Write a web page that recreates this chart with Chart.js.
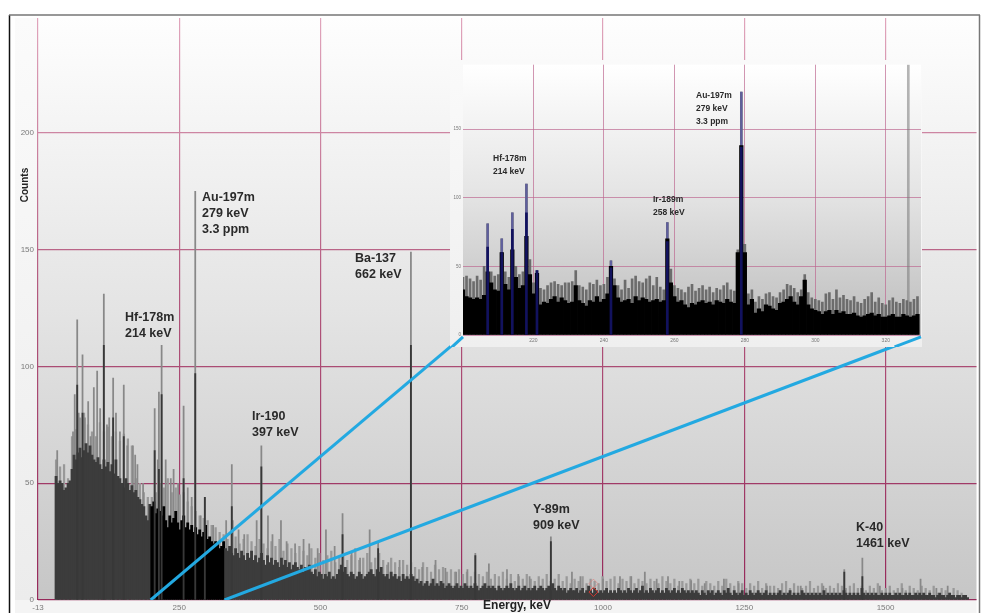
<!DOCTYPE html>
<html>
<head>
<meta charset="utf-8">
<script src="https://cdn.jsdelivr.net/npm/chart.js@4/dist/chart.umd.min.js"></script>
<style>
  html, body { margin: 0; padding: 0; background: #fff; }
  #wrap { position: relative; width: 982px; height: 613px; overflow: hidden; }
  canvas { position: absolute; filter: blur(0.65px); }
  #mainChart { left: 0; top: 0; }
  #zoomChart { left: 450px; top: 60px; }
</style>
</head>
<body>
<div id="wrap">
  <canvas id="mainChart" width="982" height="613"></canvas>
  <canvas id="zoomChart" width="472" height="287"></canvas>
</div>
<script>
// main spectrum, counts
const firstKeV = 32;
const bodyStep = 3.53;
const fringeStep = 7.06;

const bodyCounts = [
  53,50,51,50,47,48,50,51,56,62,60,63,65,61,64,67,63,66,62,60,
  59,61,58,56,60,57,59,55,58,54,60,53,52,50,48,52,50,47,49,46,
  47,44,43,41,40,36,34,41,40,42,37,39,38,36,40,34,31,36,33,35,
  38,33,30,34,36,31,33,30,32,29,31,28,30,27,29,32,26,27,25,24,
  25,24,22,23,25,22,21,23,20,19,22,20,18,21,19,17,20,18,21,17,
  19,16,18,20,17,15,19,16,18,15,17,16,14,18,15,17,14,16,13,15,
  16,14,13,15,12,14,13,15,12,11,13,10,12,11,9,11,10,12,9,10,
  9,11,13,15,12,14,11,10,12,11,9,10,12,11,9,10,11,12,13,11,
  10,13,12,14,11,10,11,9,12,10,11,9,10,8,11,9,10,9,11,10,
  8,9,7,8,6,7,8,6,7,9,6,7,6,8,7,5,6,7,6,5,
  6,7,5,6,5,7,6,5,6,5,7,6,4,5,6,7,5,6,5,6,
  5,4,6,5,4,5,6,5,7,5,4,5,6,4,5,6,4,5,4,5,
  6,4,5,6,5,4,5,6,4,7,5,4,6,5,4,5,3,4,5,4,
  4,5,3,4,5,3,4,6,4,3,5,4,3,4,3,4,5,3,4,3,
  4,3,5,4,3,4,3,5,4,3,4,5,3,4,6,3,4,3,5,4,
  3,4,5,3,4,3,5,4,3,4,5,3,4,3,5,4,3,4,3,4,
  3,4,3,2,4,3,2,4,3,4,2,3,4,3,2,4,3,5,3,2,
  4,3,2,3,4,2,3,2,4,3,2,3,4,3,2,3,4,2,3,2,
  3,2,3,4,2,3,2,3,4,2,3,2,3,2,4,3,2,3,2,3,
  2,3,2,3,2,4,2,3,2,3,2,3,2,3,2,4,3,2,3,2,
  3,2,3,2,5,3,2,3,2,3,2,3,2,2,3,2,3,2,3,2,
  2,3,2,3,2,2,3,2,3,2,2,3,2,3,2,3,2,2,3,2,
  2,1,2,3,2,2,1,2,3,2,2,1,2,2,1,2,2,1
];

const fringeCounts = [
  60,57,58,52,70,73,78,80,75,72,70,76,72,74,70,72,68,71,69,66,
  52,50,46,44,44,46,50,48,52,46,48,45,46,42,40,38,36,35,34,32,
  31,29,28,26,30,27,24,26,28,25,23,26,24,22,25,23,26,21,24,22,
  20,23,21,19,22,18,20,17,19,21,16,18,20,17,19,22,17,18,20,16,
  18,20,17,15,18,16,14,17,15,16,14,13,16,14,12,15,13,14,12,13,
  12,13,11,12,10,12,11,10,12,9,11,10,12,9,11,8,10,9,11,9,
  8,10,9,11,8,9,11,8,10,7,9,8,10,7,9,8,7,10,8,9,
  10,7,9,8,10,7,9,8,7,9,8,7,10,8,7,9,6,8,7,9,
  7,9,6,8,7,6,8,6,9,7,6,8,7,5,7,6,8,5,7,6,
  6,5,7,8,5,7,6,5,6,8,5,6,7,5,6,5,7,6,5,6,
  7,5,6,4,6,5,7,4,5,6,4,5,7,4,6,5,4,6,5,4,6,3,5,4,3,5,4,3,2
];

const spikeEnergies = [34,65,69.4,78.8,88.8,98.8,104.7,116.5,133,151.8,168,206.5,214,218.8,257.7,278.3,295.3,333,343,344.7,387,395.3,407,430,509.6,539,587,602,660,703.6,721,774,798,830,907.7,1030,1074,1115,1156,1214,1427,1459,1562,1610,
  62,72,83,93,110,122,126,138,145,158,172,176,186,212,226,235,240,248,265,272,288,310,355,365,415,440,455,470,480,495,525,555,570,620,640,680,740,760,850,870,945,960,1000,1050,1095,1135,1180,1240,1290,1350,1390,1490,1530,1590];
const spikeCounts = [64,88,120,105,85,91,98,131,95,92,66,82,89,109,83,175,44,34,58,34,34,66,36,34,30,37,30,25,149,17,13.6,20,15.5,13,27,10,12,10,8.3,9,13,18,9,6,
  72,80,78,70,82,75,78,80,72,66,62,58,50,60,60,52,56,50,48,44,36,32,30,28,28,25,24,26,24,22,23,20,18,16,17,14,12,13,11,10,12,10,9,10,9,8,7,7,6,6,6,6,5,5];

const coreEnergies = [69.4,78.8,116.5,133,151.8,206.5,214,218.8,257.7,278.3,295.3,343,395.3,539,602,660,774,907.7,1427,1459];
const coreCounts = [92,80,109,78,70,64,56,88,52,97,44,40,57,28,22,109,19,25,12,10];

// detail window 200-330 keV, one bin per keV
const zoomFirstKeV = 200;
const zoomBody = [
  33,28,27,26,27,26,29,46,38,33,
  32,60,37,33,62,42,34,36,72,44,
  30,45,22,24,23,26,28,24,27,25,
  23,24,36,25,23,21,25,24,28,24,
  26,30,50,36,27,24,25,26,23,28,
  25,27,26,24,25,26,24,25,70,38,
  28,24,25,22,20,23,22,24,25,23,
  24,22,25,24,23,26,24,23,60,138,
  60,22,26,16,19,17,22,21,19,18,
  23,24,26,28,24,22,28,40,22,19,
  18,17,15,17,18,15,18,16,17,15,
  15,16,14,13,14,15,16,14,15,13,
  13,14,15,13,13,15,14,13,14,15
];
const zoomFringe = [
  42,43,41,39,43,40,50,81,46,43,
  44,70,46,42,89,50,44,46,110,55,
  38,47,34,33,36,38,39,37,36,38,
  38,39,47,36,35,33,38,37,40,36,
  37,42,54,41,36,33,40,34,41,43,
  39,38,41,43,36,42,35,33,82,48,
  36,34,33,31,35,37,32,34,36,33,
  35,31,34,33,36,38,33,32,62,177,
  66,30,33,24,28,26,30,31,28,27,
  31,33,37,36,34,31,33,44,31,27,
  26,25,24,30,31,26,33,27,29,26,
  25,28,24,23,26,28,31,24,27,23,
  22,25,27,24,23,26,25,24,26,28
];
const peakEnergies = [207,211,214,218,221,242,258,279];
const peakCores = [64,60,77,89,47,49,68,137];
const peakTops = [81,70,89,110,47,54,82,177];
const cursorEnergy = [326.4];
const cursorCounts = [197];

const mainXTicks = ['-13','250','500','750','1000','1250','1500'];
const zoomXTicks = ['','220','240','260','280','300','320'];
const yTickValues = [0, 50, 100, 150, 200];

const linkLow = [{x: 199.4, y: 0}, {x: 750, y: 112.6}];
const linkHigh = [{x: 330, y: 0}, {x: 1558, y: 112.6}];
const zoomLinkLow = [{x: 196.3, y: -10.1}, {x: 200, y: -1.4}];
const zoomLinkHigh = [{x: 322.5, y: -8.6}, {x: 330, y: -1.4}];
const markerEnergy = [983, 983];
const markerCounts = [3.4, 7];

const pairs = (xs, ys) => ys.map((y, i) => ({x: xs[i], y}));
const series = (start, step, ys) => ys.map((y, i) => ({x: start + i * step, y}));

const mainNotes = [
  {lines: ['Hf-178m', '214 keV'], x: 125, y: 318},
  {lines: ['Au-197m', '279 keV', '3.3 ppm'], x: 202, y: 198},
  {lines: ['Ba-137', '662 keV'], x: 355, y: 259},
  {lines: ['Ir-190', '397 keV'], x: 252, y: 417},
  {lines: ['Y-89m', '909 keV'], x: 533, y: 510},
  {lines: ['K-40', '1461 keV'], x: 856, y: 528}
];
const zoomNotes = [
  {lines: ['Au-197m', '279 keV', '3.3 ppm'], x: 246, y: 36},
  {lines: ['Hf-178m', '214 keV'], x: 43, y: 99},
  {lines: ['Ir-189m', '258 keV'], x: 203, y: 140}
];

function drawNotes(c, notes, size, gap) {
  c.save();
  c.fillStyle = '#2a2a2a';
  c.font = 'bold ' + size + 'px "Liberation Sans", Arial, sans-serif';
  c.textBaseline = 'middle';
  notes.forEach(n => n.lines.forEach((t, i) => c.fillText(t, n.x, n.y + i * gap)));
  c.restore();
}

const mainBackdrop = {
  id: 'mainBackdrop',
  beforeDraw(chart) {
    const c = chart.ctx, a = chart.chartArea;
    c.save();
    let g = c.createLinearGradient(0, a.top, 0, a.bottom);
    g.addColorStop(0, '#fefefe');
    g.addColorStop(0.5, '#e4e4e4');
    g.addColorStop(1, '#c6c6c6');
    c.fillStyle = g;
    c.fillRect(a.left, a.top, a.right - a.left, a.bottom - a.top);
    g = c.createLinearGradient(0, a.top, 0, a.bottom);
    g.addColorStop(0, '#fbfbfb');
    g.addColorStop(1, '#ececec');
    c.fillStyle = g;
    c.fillRect(15, a.top, a.left - 15, a.bottom - a.top);
    c.fillStyle = '#f4f4f4';
    c.fillRect(15, a.bottom, a.right - 15, 13);
    c.restore();
  },
  afterDraw(chart) {
    const c = chart.ctx;
    c.save();
    c.strokeStyle = '#111';
    c.lineWidth = 1.5;
    c.beginPath(); c.moveTo(9.5, 15); c.lineTo(9.5, 613); c.stroke();
    c.strokeStyle = '#777';
    c.beginPath(); c.moveTo(9, 15); c.lineTo(980, 15); c.moveTo(979.5, 15); c.lineTo(979.5, 613); c.stroke();
    c.restore();
    drawNotes(c, mainNotes, 12.5, 16);
    c.save();
    c.fillStyle = '#222';
    c.font = 'bold 12px "Liberation Sans", Arial, sans-serif';
    c.textAlign = 'center';
    c.textBaseline = 'middle';
    c.fillText('Energy, keV', 517, 606);
    c.translate(25, 185);
    c.rotate(-Math.PI / 2);
    c.font = 'bold 10px "Liberation Sans", Arial, sans-serif';
    c.fillText('Counts', 0, 0);
    c.restore();
  }
};

const zoomBackdrop = {
  id: 'zoomBackdrop',
  beforeDraw(chart) {
    const c = chart.ctx, a = chart.chartArea;
    c.save();
    let g = c.createLinearGradient(0, 0, 0, chart.height);
    g.addColorStop(0, '#fafafa');
    g.addColorStop(1, '#efefef');
    c.fillStyle = g;
    c.fillRect(0, 0, chart.width, chart.height);
    g = c.createLinearGradient(0, a.top, 0, a.bottom);
    g.addColorStop(0, '#ffffff');
    g.addColorStop(0.45, '#e6e6e6');
    g.addColorStop(1, '#bcbcbc');
    c.fillStyle = g;
    c.fillRect(a.left, a.top, a.right - a.left, a.bottom - a.top);
    c.restore();
  },
  afterDraw(chart) {
    drawNotes(chart.ctx, zoomNotes, 8.5, 13);
  }
};

const mainCtx = document.getElementById('mainChart').getContext('2d');
const gridShade = mainCtx.createLinearGradient(0, 18, 0, 600);
gridShade.addColorStop(0, 'rgb(224,165,188)');
gridShade.addColorStop(0.5, 'rgb(176,84,122)');
gridShade.addColorStop(1, 'rgb(150,40,90)');

new Chart(mainCtx, {
  type: 'bar',
  plugins: [mainBackdrop],
  data: {
    datasets: [
      {
        label: 'link low', type: 'scatter', showLine: true, data: linkLow, order: 0,
        borderColor: '#23a9e1', borderWidth: 3, pointRadius: 0
      },
      {
        label: 'link high', type: 'scatter', showLine: true, data: linkHigh, order: 0,
        borderColor: '#23a9e1', borderWidth: 3, pointRadius: 0
      },
      {
        label: 'marker', type: 'scatter', data: pairs(markerEnergy, markerCounts), order: 1,
        pointStyle: 'rectRot', pointRadius: 4.5, backgroundColor: 'rgba(0,0,0,0)',
        borderColor: ['#d0362f', 'rgba(225,120,115,.6)'], borderWidth: 1
      },
      {
        label: 'core', data: pairs(coreEnergies, coreCounts), order: 2,
        backgroundColor: '#383838', barThickness: 1.2
      },
      {
        label: 'body', data: series(firstKeV, bodyStep, bodyCounts), order: 3,
        backgroundColor: c => (c.raw && c.raw.x >= 199.4 && c.raw.x <= 330) ? '#000' : '#3c3c3c',
        barThickness: 2.2
      },
      {
        label: 'spikes', data: pairs(spikeEnergies, spikeCounts), order: 4,
        backgroundColor: '#888', barThickness: 1.1
      },
      {
        label: 'fringe', data: series(firstKeV, fringeStep, fringeCounts), order: 5,
        backgroundColor: '#999', barThickness: 1.6
      }
    ]
  },
  options: {
    responsive: false,
    animation: false,
    layout: { padding: { left: 0, top: 18, right: 3, bottom: 0 } },
    plugins: { legend: { display: false }, tooltip: { enabled: false } },
    datasets: { bar: { grouped: false } },
    scales: {
      x: {
        type: 'linear', offset: false, min: 0, max: 1661,
        afterFit: s => { s.height = 13; },
        border: { display: false },
        grid: { offset: false, color: () => gridShade, lineWidth: 1.2, drawTicks: false },
        ticks: {
          stepSize: 250, includeBounds: false, maxRotation: 0, padding: 3, color: '#7a7a7a',
          font: { size: 8, family: '"Liberation Sans", Arial, sans-serif' },
          callback: (v, i) => mainXTicks[i]
        }
      },
      y: {
        min: 0, max: 249.2,
        afterFit: s => { s.width = 38; },
        afterBuildTicks: s => { s.ticks = yTickValues.map(value => ({value})); },
        border: { display: false },
        grid: { color: () => gridShade, lineWidth: 1.2, drawTicks: false },
        ticks: {
          padding: 4, color: '#7a7a7a',
          font: { size: 8, family: '"Liberation Sans", Arial, sans-serif' }
        }
      }
    }
  }
});

const zoomGrid = 'rgba(190,105,145,.7)';
new Chart(document.getElementById('zoomChart').getContext('2d'), {
  type: 'bar',
  plugins: [zoomBackdrop],
  data: {
    datasets: [
      {
        label: 'link low', type: 'scatter', showLine: true, data: zoomLinkLow, order: 0, clip: false,
        borderColor: '#23a9e1', borderWidth: 3, pointRadius: 0
      },
      {
        label: 'link high', type: 'scatter', showLine: true, data: zoomLinkHigh, order: 0, clip: false,
        borderColor: '#23a9e1', borderWidth: 3, pointRadius: 0
      },
      {
        label: 'peak core', data: pairs(peakEnergies, peakCores), order: 1,
        backgroundColor: '#12125e', barThickness: 2
      },
      {
        label: 'body', data: series(zoomFirstKeV, 1, zoomBody), order: 2,
        backgroundColor: '#000', barThickness: 3.6
      },
      {
        label: 'peak top', data: pairs(peakEnergies, peakTops), order: 3,
        backgroundColor: '#5f5f9e', barThickness: 1.6
      },
      {
        label: 'fringe', data: series(zoomFirstKeV, 1, zoomFringe), order: 4,
        backgroundColor: '#6c6c6c', barThickness: 2
      },
      {
        label: 'cursor', data: pairs(cursorEnergy, cursorCounts), order: 5,
        backgroundColor: 'rgba(120,120,120,.55)', barThickness: 2
      }
    ]
  },
  options: {
    responsive: false,
    animation: false,
    layout: { padding: { left: 0, top: 2, right: 1, bottom: 0 } },
    plugins: { legend: { display: false }, tooltip: { enabled: false } },
    datasets: { bar: { grouped: false } },
    scales: {
      x: {
        type: 'linear', offset: false, min: 200, max: 330,
        afterFit: s => { s.height = 12; },
        border: { display: false },
        grid: { offset: false, color: c => (c.tick && c.tick.value === 200) ? 'rgba(0,0,0,0)' : zoomGrid, drawTicks: false },
        ticks: {
          stepSize: 20, includeBounds: false, maxRotation: 0, padding: 3, color: '#777',
          font: { size: 5, family: '"Liberation Sans", Arial, sans-serif' },
          callback: (v, i) => zoomXTicks[i]
        }
      },
      y: {
        min: 0, max: 197,
        afterFit: s => { s.width = 13; },
        afterBuildTicks: s => { s.ticks = yTickValues.slice(0, 4).map(value => ({value})); },
        border: { display: false },
        grid: { color: zoomGrid, drawTicks: false },
        ticks: {
          padding: 2, color: '#777',
          font: { size: 4.5, family: '"Liberation Sans", Arial, sans-serif' }
        }
      }
    }
  }
});
</script>
</body>
</html>
